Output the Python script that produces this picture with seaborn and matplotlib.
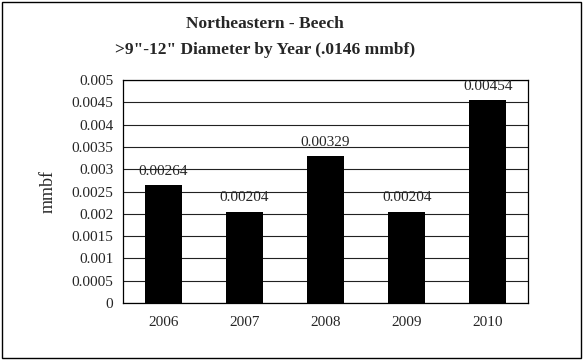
import matplotlib
matplotlib.use("Agg")
import matplotlib.pyplot as plt
import seaborn as sns
import pandas as pd
from matplotlib.patches import Rectangle

years = ["2006", "2007", "2008", "2009", "2010"]
values = [0.00264, 0.00204, 0.00329, 0.00204, 0.00454]
value_labels = ["0.00264", "0.00204", "0.00329", "0.00204", "0.00454"]
yticks = [0, 0.0005, 0.001, 0.0015, 0.002, 0.0025, 0.003, 0.0035, 0.004, 0.0045, 0.005]
ytick_labels = ["0", "0.0005", "0.001", "0.0015", "0.002", "0.0025", "0.003", "0.0035", "0.004", "0.0045", "0.005"]

sns.set_style("white")
plt.rcParams['font.family'] = ['Liberation Serif', 'DejaVu Serif']

df = pd.DataFrame({"year": years, "mmbf": values})

fig = plt.figure(figsize=(5.85, 3.6), dpi=100)
ax = fig.add_axes([0.210, 0.158, 0.693, 0.620])

sns.barplot(data=df, x="year", y="mmbf", color="black", width=0.46,
            saturation=1, ax=ax, zorder=3, edgecolor="black", linewidth=0)

ax.set_ylim(0, 0.005)
ax.set_xlim(-0.5, 4.5)
ax.set_yticks(yticks)
ax.set_yticklabels(ytick_labels, fontsize=11)
ax.yaxis.grid(True, color="#222222", linewidth=0.8, zorder=0)
ax.set_axisbelow(True)

ax.set_xticks(range(len(years)))
ax.set_xticklabels(years, fontsize=11)
ax.tick_params(axis="x", length=0, pad=9)
ax.set_xticks([i - 0.5 for i in range(len(years) + 1)], minor=True)
ax.tick_params(axis="x", which="minor", length=4, width=0.8, direction="out", color="black")
ax.tick_params(axis="y", length=4, width=0.8, direction="out", color="black", pad=3)

for s in ax.spines.values():
    s.set_visible(True)
    s.set_color("black")
    s.set_linewidth(0.9)

for i, (v, lab) in enumerate(zip(values, value_labels)):
    ax.annotate(lab, (i, v), xytext=(0, 5.5), textcoords="offset points",
                ha="center", va="bottom", fontsize=11)

ax.set_xlabel("")
ax.set_ylabel("mmbf", fontsize=13)
ax.yaxis.set_label_coords(-0.163, 0.5)

fig.text(0.453, 0.934, "Northeastern - Beech", ha="center", va="center",
         fontsize=12.5, fontweight="bold")
fig.text(0.453, 0.861, ">9\"-12\" Diameter by Year (.0146 mmbf)", ha="center", va="center",
         fontsize=12.5, fontweight="bold")

fig.patches.append(Rectangle((0.004, 0.006), 0.99, 0.988, transform=fig.transFigure,
                             fill=False, edgecolor="black", linewidth=1.0))

fig.savefig("out.png", dpi=100)
